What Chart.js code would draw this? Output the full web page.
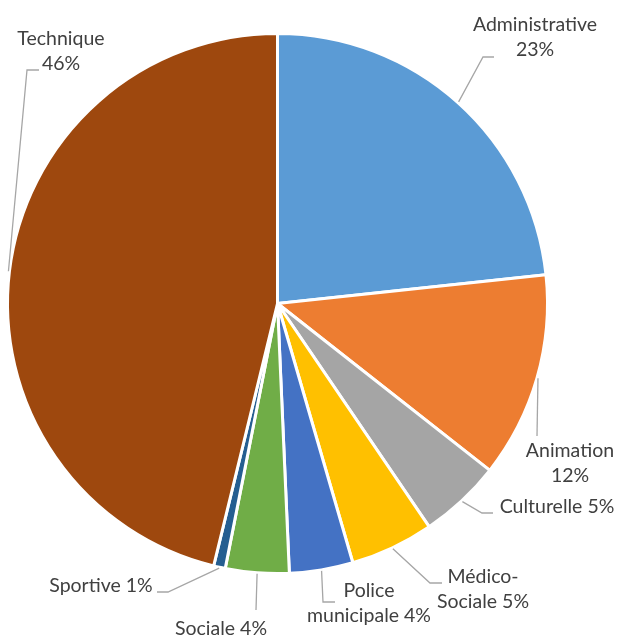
<!DOCTYPE html>
<html>
<head>
<meta charset="utf-8">
<script src="https://cdn.jsdelivr.net/npm/chart.js@4/dist/chart.umd.min.js"></script>
<style>
  html, body { margin: 0; padding: 0; background: #ffffff; }
  canvas { display: block; }
</style>
</head>
<body>
<canvas id="c" width="619" height="639"></canvas>
<script>
// ---- data ----
const categories = ["Administrative", "Animation", "Culturelle", "Médico-Sociale", "Police municipale", "Sociale", "Sportive", "Technique"];
const values = [23.3, 12.3, 4.9, 5.0, 3.8, 3.8, 0.7, 46.2];
const colors = ["#5B9BD5", "#ED7D31", "#A5A5A5", "#FFC000", "#4472C4", "#70AD47", "#255E91", "#9E480E"];

// ---- label layout (text placement and leader elbows, not data) ----
// breakAfter: substring of the name after which a line break is inserted; pctSep: separator before the percentage
const labelLayout = [
  { cx: 535, base: 31, pctSep: "\n", elbow: [483, 57], end: [494, 57] },
  { cx: 570, base: 457, pctSep: "\n", elbow: [537, 436], end: [537, 436] },
  { cx: 557, base: 513, pctSep: " ", elbow: [482, 513], end: [493, 513] },
  { cx: 483, base: 583, pctSep: " ", breakAfter: "Médico-", elbow: [430, 583], end: [442, 583] },
  { cx: 369, base: 597, pctSep: " ", breakAfter: "Police ", elbow: [323, 602], end: [335, 602] },
  { cx: 221, base: 635, pctSep: " ", elbow: [256, 610], end: [256, 610] },
  { cx: 101, base: 592, pctSep: " ", elbow: [168, 592], end: [157, 592] },
  { cx: 61, base: 45, pctSep: "\n", elbow: [27, 70], end: [39, 70] }
];

const FONT = '19.5px Lato, "Open Sans", sans-serif';
const LINE_H = 25;

const outsideLabels = {
  id: 'outsideLabels',
  afterDatasetsDraw(chart) {
    const ctx = chart.ctx;
    const meta = chart.getDatasetMeta(0);
    const data = chart.data.datasets[0].data;
    const total = data.reduce((a, b) => a + b, 0);
    ctx.save();
    meta.data.forEach((arc, i) => {
      const lay = labelLayout[i];
      const p = arc.getProps(['x', 'y', 'startAngle', 'endAngle', 'outerRadius'], true);
      const mid = (p.startAngle + p.endAngle) / 2;
      const r = p.outerRadius + 1;
      const sx = p.x + Math.cos(mid) * r;
      const sy = p.y + Math.sin(mid) * r;
      // leader line
      ctx.strokeStyle = '#A6A6A6';
      ctx.lineWidth = 1.3;
      ctx.beginPath();
      ctx.moveTo(sx, sy);
      ctx.lineTo(lay.elbow[0], lay.elbow[1]);
      ctx.lineTo(lay.end[0], lay.end[1]);
      ctx.stroke();
      // text
      const pct = Math.round(data[i] / total * 100) + '%';
      let name = chart.data.labels[i];
      if (lay.breakAfter) {
        name = name.replace(lay.breakAfter, lay.breakAfter.trimEnd() + '\n');
      }
      const lines = (name + lay.pctSep + pct).split('\n');
      ctx.fillStyle = '#404040';
      ctx.font = FONT;
      ctx.textAlign = 'center';
      ctx.textBaseline = 'alphabetic';
      lines.forEach((ln, k) => ctx.fillText(ln, lay.cx, lay.base + k * LINE_H));
    });
    ctx.restore();
  }
};

new Chart(document.getElementById('c'), {
  type: 'pie',
  data: {
    labels: categories,
    datasets: [{
      data: values,
      backgroundColor: colors,
      borderColor: '#ffffff',
      borderWidth: 3
    }]
  },
  options: {
    responsive: false,
    animation: false,
    layout: { padding: { left: 6, right: 70, top: 32, bottom: 64 } },
    plugins: {
      legend: { display: false },
      tooltip: { enabled: false }
    }
  },
  plugins: [outsideLabels]
});
</script>
</body>
</html>
